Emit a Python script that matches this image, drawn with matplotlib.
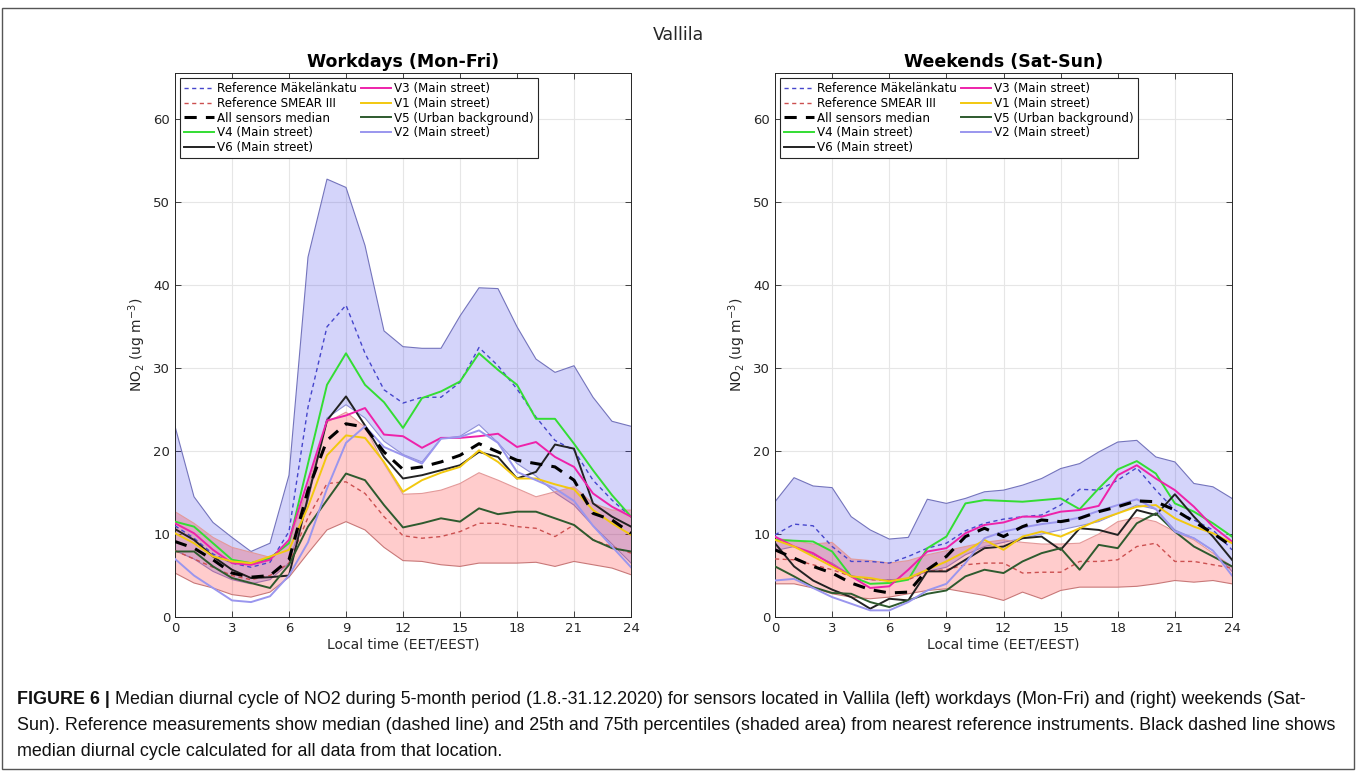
import numpy as np
import matplotlib
matplotlib.use("Agg")
import matplotlib.pyplot as plt
from matplotlib import font_manager
from matplotlib.patches import Rectangle

plt.rcParams["font.family"] = ["DejaVu Sans"]

hours = np.arange(0, 25)

# workdays (Mon-Fri), NO2 in ug m-3
mak_q75_wd = [23.0, 14.5, 11.4, 9.6, 7.9, 8.9, 17.1, 43.4, 52.8, 51.8, 44.8, 34.5, 32.6,
              32.4, 32.4, 36.3, 39.7, 39.6, 35.0, 31.1, 29.5, 30.3, 26.5, 23.6, 23.0]
mak_med_wd = [11.0, 9.5, 7.6, 6.5, 6.0, 6.6, 10.3, 25.3, 35.0, 37.6, 31.8, 27.4, 25.8,
              26.5, 26.5, 28.3, 32.5, 30.3, 27.5, 24.1, 21.3, 20.1, 16.5, 14.1, 12.1]
mak_q25_wd = [8.0, 7.0, 5.5, 4.5, 4.0, 4.5, 6.5, 14.0, 24.0, 25.6, 24.0, 21.2, 19.6,
              18.7, 21.5, 21.8, 23.2, 21.0, 18.5, 17.0, 15.0, 13.5, 11.0, 8.8, 6.5]
smear_q75_wd = [12.7, 11.3, 9.6, 8.4, 7.8, 7.2, 8.9, 15.7, 23.5, 24.7, 22.9, 18.5, 14.8,
                14.9, 15.3, 16.1, 17.4, 16.5, 15.5, 14.5, 15.1, 15.7, 13.7, 12.9, 12.9]
smear_med_wd = [8.0, 7.0, 6.0, 5.0, 4.5, 5.0, 6.5, 12.0, 16.1, 16.3, 14.9, 12.1, 9.8,
                9.5, 9.7, 10.3, 11.3, 11.3, 10.9, 10.7, 9.7, 11.1, 9.3, 8.5, 7.7]
smear_q25_wd = [5.3, 4.1, 3.5, 2.7, 2.4, 3.0, 4.8, 7.7, 10.5, 11.5, 10.5, 8.4, 6.8,
                6.7, 6.3, 6.1, 6.5, 6.5, 6.5, 6.6, 6.1, 6.7, 6.3, 5.9, 5.1]
all_med_wd = [9.1, 8.3, 6.9, 5.3, 4.8, 5.0, 6.9, 15.3, 21.3, 23.3, 22.9, 19.9, 17.8,
              18.1, 18.7, 19.5, 20.9, 19.9, 18.9, 18.5, 18.1, 16.5, 12.5, 11.7, 10.1]
v4_wd = [11.5, 10.9, 8.9, 6.9, 6.5, 7.1, 8.9, 18.5, 28.0, 31.8, 28.0, 25.9, 22.8,
         26.4, 27.2, 28.4, 31.8, 29.8, 28.0, 23.9, 23.9, 20.9, 17.7, 14.7, 12.1]
v6_wd = [10.6, 9.3, 7.3, 5.7, 4.7, 4.8, 5.0, 14.5, 23.7, 26.6, 23.1, 19.3, 16.7,
         17.1, 17.7, 18.3, 19.9, 19.3, 16.7, 17.5, 20.8, 20.3, 13.7, 12.1, 10.9]
v3_wd = [11.3, 10.1, 8.1, 6.5, 6.3, 6.9, 9.3, 16.5, 23.7, 24.3, 25.2, 22.0, 21.8,
         20.4, 21.6, 21.6, 21.8, 22.1, 20.5, 21.1, 19.3, 18.1, 14.9, 13.3, 12.1]
v1_wd = [10.1, 8.9, 7.3, 6.7, 6.5, 7.3, 8.1, 13.3, 19.5, 21.9, 21.6, 18.7, 15.1,
         16.5, 17.4, 18.1, 20.1, 18.7, 16.7, 16.7, 16.0, 15.4, 12.9, 11.3, 9.9]
v5_wd = [7.9, 7.9, 6.1, 4.7, 4.1, 3.5, 6.3, 10.9, 14.1, 17.3, 16.5, 13.5, 10.8,
         11.3, 11.9, 11.5, 13.1, 12.4, 12.7, 12.7, 11.9, 11.1, 9.3, 8.3, 7.9]
v2_wd = [7.0, 5.0, 3.5, 2.0, 1.8, 2.5, 5.0, 9.0, 15.5, 21.0, 23.0, 20.5, 19.5,
         18.5, 21.5, 21.7, 22.5, 21.0, 17.5, 16.5, 15.5, 14.0, 11.0, 8.5, 6.0]

# weekends (Sat-Sun)
mak_q75_we = [13.9, 16.8, 15.8, 15.6, 12.1, 10.5, 9.4, 9.6, 14.2, 13.7, 14.3, 15.1, 15.3,
              15.9, 16.7, 17.9, 18.5, 19.9, 21.1, 21.3, 19.3, 18.7, 16.1, 15.7, 14.3]
mak_med_we = [9.9, 11.2, 11.0, 8.5, 6.7, 6.7, 6.5, 7.3, 8.3, 8.9, 10.4, 11.3, 11.8,
              12.1, 12.3, 13.5, 15.4, 15.3, 16.5, 18.0, 15.3, 12.9, 11.7, 10.5, 8.1]
mak_q25_we = [8.0, 8.5, 7.5, 6.5, 5.0, 4.5, 4.5, 4.6, 5.5, 6.0, 7.5, 8.5, 9.0,
              9.5, 10.0, 10.5, 11.0, 11.5, 12.5, 13.5, 13.0, 10.5, 9.5, 8.0, 5.5]
smear_q75_we = [9.5, 9.2, 8.8, 9.0, 7.0, 6.8, 6.5, 6.8, 7.5, 8.0, 8.5, 9.0, 9.3,
                9.0, 8.8, 8.8, 8.9, 10.0, 11.5, 12.0, 11.5, 10.3, 9.3, 7.7, 6.1]
smear_med_we = [7.0, 6.9, 6.3, 5.7, 4.9, 4.5, 4.4, 4.5, 5.5, 5.7, 6.3, 6.5, 6.5,
                5.3, 5.4, 5.4, 6.7, 6.7, 6.9, 8.5, 8.9, 6.7, 6.7, 6.3, 5.9]
smear_q25_we = [4.0, 4.0, 3.5, 2.8, 2.4, 2.2, 2.4, 2.8, 3.2, 3.4, 3.0, 2.6, 2.0,
                3.0, 2.2, 3.2, 3.6, 3.6, 3.6, 3.7, 4.0, 4.4, 4.2, 4.4, 4.0]
all_med_we = [8.1, 7.1, 6.1, 5.3, 4.1, 3.3, 2.9, 3.0, 5.7, 7.3, 9.7, 10.7, 9.7,
              10.9, 11.7, 11.5, 11.9, 12.7, 13.3, 14.0, 13.9, 12.9, 11.5, 10.1, 8.5]
v4_we = [9.3, 9.2, 9.1, 7.9, 4.9, 4.0, 4.1, 4.5, 8.3, 9.7, 13.7, 14.1, 14.0,
         13.9, 14.1, 14.3, 13.0, 15.5, 17.8, 18.8, 17.3, 13.7, 12.7, 11.3, 9.7]
v6_we = [8.9, 6.1, 4.4, 3.3, 2.4, 1.0, 2.2, 2.0, 5.5, 5.5, 6.9, 8.3, 8.5,
         9.5, 9.7, 8.1, 10.7, 10.5, 9.9, 12.9, 12.3, 14.8, 12.1, 9.7, 6.9]
v3_we = [9.7, 8.5, 7.7, 6.3, 4.9, 3.5, 3.7, 5.7, 7.9, 8.3, 10.1, 11.1, 11.4,
         12.1, 12.1, 12.7, 12.9, 13.4, 17.1, 18.3, 16.7, 15.3, 13.3, 10.9, 9.1]
v1_we = [9.3, 8.5, 7.3, 6.1, 4.9, 4.7, 4.3, 4.7, 5.7, 6.7, 7.9, 9.3, 8.1,
         9.7, 10.3, 9.7, 10.7, 11.7, 12.5, 13.3, 13.5, 11.9, 10.9, 10.1, 8.9]
v5_we = [6.1, 4.9, 3.6, 2.9, 2.8, 1.8, 1.2, 2.0, 2.8, 3.2, 4.9, 5.7, 5.3,
         6.7, 7.7, 8.3, 5.7, 8.7, 8.3, 11.3, 12.5, 10.3, 8.5, 7.3, 6.1]
v2_we = [4.4, 4.6, 3.5, 2.4, 1.6, 0.8, 0.8, 1.8, 3.2, 4.0, 6.5, 9.5, 10.3,
         10.8, 11.2, 11.5, 12.0, 12.8, 13.5, 14.2, 13.0, 10.3, 9.5, 8.0, 5.0]

panels = {
    "Workdays (Mon-Fri)": dict(mak=(mak_q25_wd, mak_med_wd, mak_q75_wd),
                               smear=(smear_q25_wd, smear_med_wd, smear_q75_wd),
                               all=all_med_wd, v4=v4_wd, v6=v6_wd, v3=v3_wd,
                               v1=v1_wd, v5=v5_wd, v2=v2_wd),
    "Weekends (Sat-Sun)": dict(mak=(mak_q25_we, mak_med_we, mak_q75_we),
                               smear=(smear_q25_we, smear_med_we, smear_q75_we),
                               all=all_med_we, v4=v4_we, v6=v6_we, v3=v3_we,
                               v1=v1_we, v5=v5_we, v2=v2_we),
}

sensors = [
    ("v4", "V4 (Main street)", "#33dd33"),
    ("v6", "V6 (Main street)", "#222222"),
    ("v3", "V3 (Main street)", "#ee22aa"),
    ("v1", "V1 (Main street)", "#f2c80f"),
    ("v5", "V5 (Urban background)", "#2e5a2e"),
    ("v2", "V2 (Main street)", "#9a96ee"),
]

W, H = 1356, 771
fig = plt.figure(figsize=(W / 100, H / 100), dpi=100)

# thin frame around the whole figure
fig.add_artist(Rectangle((2 / W, 2 / H), 1 - 4 / W, 1 - 10 / H, transform=fig.transFigure,
                         fill=False, edgecolor="#555555", linewidth=1.0))

fig.text(0.5, 1 - 35 / H, "Vallila", ha="center", va="center", fontsize=12.5, color="#262626")

ax_pos = [(175, 73, 631, 617), (775, 73, 1232, 617)]
for (title, d), (x0, y0, x1, y1) in zip(panels.items(), ax_pos):
    ax = fig.add_axes([x0 / W, 1 - y1 / H, (x1 - x0) / W, (y1 - y0) / H])
    q25, med, q75 = d["mak"]
    ax.fill_between(hours, q25, q75, facecolor="#2a2ae6", alpha=0.2, edgecolor="none", zorder=1)
    ax.plot(hours, q75, color="#7474bc", lw=0.8, zorder=1)
    ax.plot(hours, q25, color="#9090d8", lw=0.8, zorder=1)
    s25, smed, s75 = d["smear"]
    ax.fill_between(hours, s25, s75, facecolor="#ff0000", alpha=0.2, edgecolor="none", zorder=1)
    ax.plot(hours, s75, color="#e39a9a", lw=0.8, zorder=1)
    ax.plot(hours, s25, color="#c87878", lw=0.8, zorder=1)

    h_mak, = ax.plot(hours, med, color="#4646cc", lw=1.0, ls=(0, (3, 2.5)), zorder=3,
                     label="Reference Mäkelänkatu")
    h_smear, = ax.plot(hours, smed, color="#cc5050", lw=1.0, ls=(0, (3, 2.5)), zorder=3,
                       label="Reference SMEAR III")
    lines = {}
    for key, label, color in sensors:
        lines[key], = ax.plot(hours, d[key], color=color, lw=1.4, zorder=4, label=label)
    h_all, = ax.plot(hours, d["all"], color="black", lw=2.2, ls=(0, (4, 3)), zorder=5,
                     label="All sensors median")

    handles = [h_mak, h_smear, h_all, lines["v4"], lines["v6"],
               lines["v3"], lines["v1"], lines["v5"], lines["v2"]]
    leg = ax.legend(handles=handles, loc="upper left", ncol=2, fontsize=8.6,
                    frameon=True, fancybox=False, edgecolor="#262626", framealpha=1,
                    handlelength=2.5, handletextpad=0.25, columnspacing=0.4,
                    labelspacing=0.15, borderpad=0.3, borderaxespad=0.45)
    leg.get_frame().set_linewidth(0.8)

    ax.set_xlim(0, 24)
    ax.set_ylim(0, 65.6)
    ax.set_xticks(np.arange(0, 25, 3))
    ax.set_yticks(np.arange(0, 61, 10))
    ax.grid(True, color="#e6e6e6", lw=0.8)
    ax.set_axisbelow(True)
    ax.tick_params(direction="in", top=True, right=True, labelsize=9.5,
                   colors="#262626", length=4, width=0.6)
    for sp in ax.spines.values():
        sp.set_color("#262626")
        sp.set_linewidth(0.7)
    ax.set_title(title, fontsize=12.5, fontweight="bold", pad=4)
    ax.set_xlabel("Local time (EET/EEST)", fontsize=10, color="#262626", labelpad=2)
    ax.set_ylabel(r"NO$_2$ (ug m$^{-3}$)", fontsize=10, color="#262626", labelpad=4)

# caption below the panels, scaled so the widest line fits the page
names = {f.name for f in font_manager.fontManager.ttflist}
cap_family = "Liberation Sans Narrow" if "Liberation Sans Narrow" in names else "Liberation Sans"
bold_part = "FIGURE 6 | "
cap_lines = [
    "Median diurnal cycle of NO2 during 5-month period (1.8.-31.12.2020) for sensors located "
    "in Vallila (left) workdays (Mon-Fri) and (right) weekends (Sat-",
    "Sun). Reference measurements show median (dashed line) and 25th and 75th percentiles "
    "(shaded area) from nearest reference instruments. Black dashed line shows",
    "median diurnal cycle calculated for all data from that location.",
]
cap_y = [700, 726, 752]
x_left = 17
target = 1336 - x_left

renderer = fig.canvas.get_renderer()
size = 11.5
tb = fig.text(x_left / W, 1 - cap_y[0] / H, bold_part, fontsize=size, fontweight="bold",
              family=cap_family, va="center", color="#111111")
texts = [fig.text(x_left / W, 1 - y / H, line, fontsize=size, family=cap_family,
                  va="center", color="#111111") for line, y in zip(cap_lines, cap_y)]
widths = [tb.get_window_extent(renderer).width + texts[0].get_window_extent(renderer).width]
widths += [t.get_window_extent(renderer).width for t in texts[1:]]
size = size * target / max(widths)
tb.set_fontsize(size)
for t in texts:
    t.set_fontsize(size)
texts[0].set_x((x_left + tb.get_window_extent(renderer).width) / W)

fig.savefig("out.png", dpi=100)
